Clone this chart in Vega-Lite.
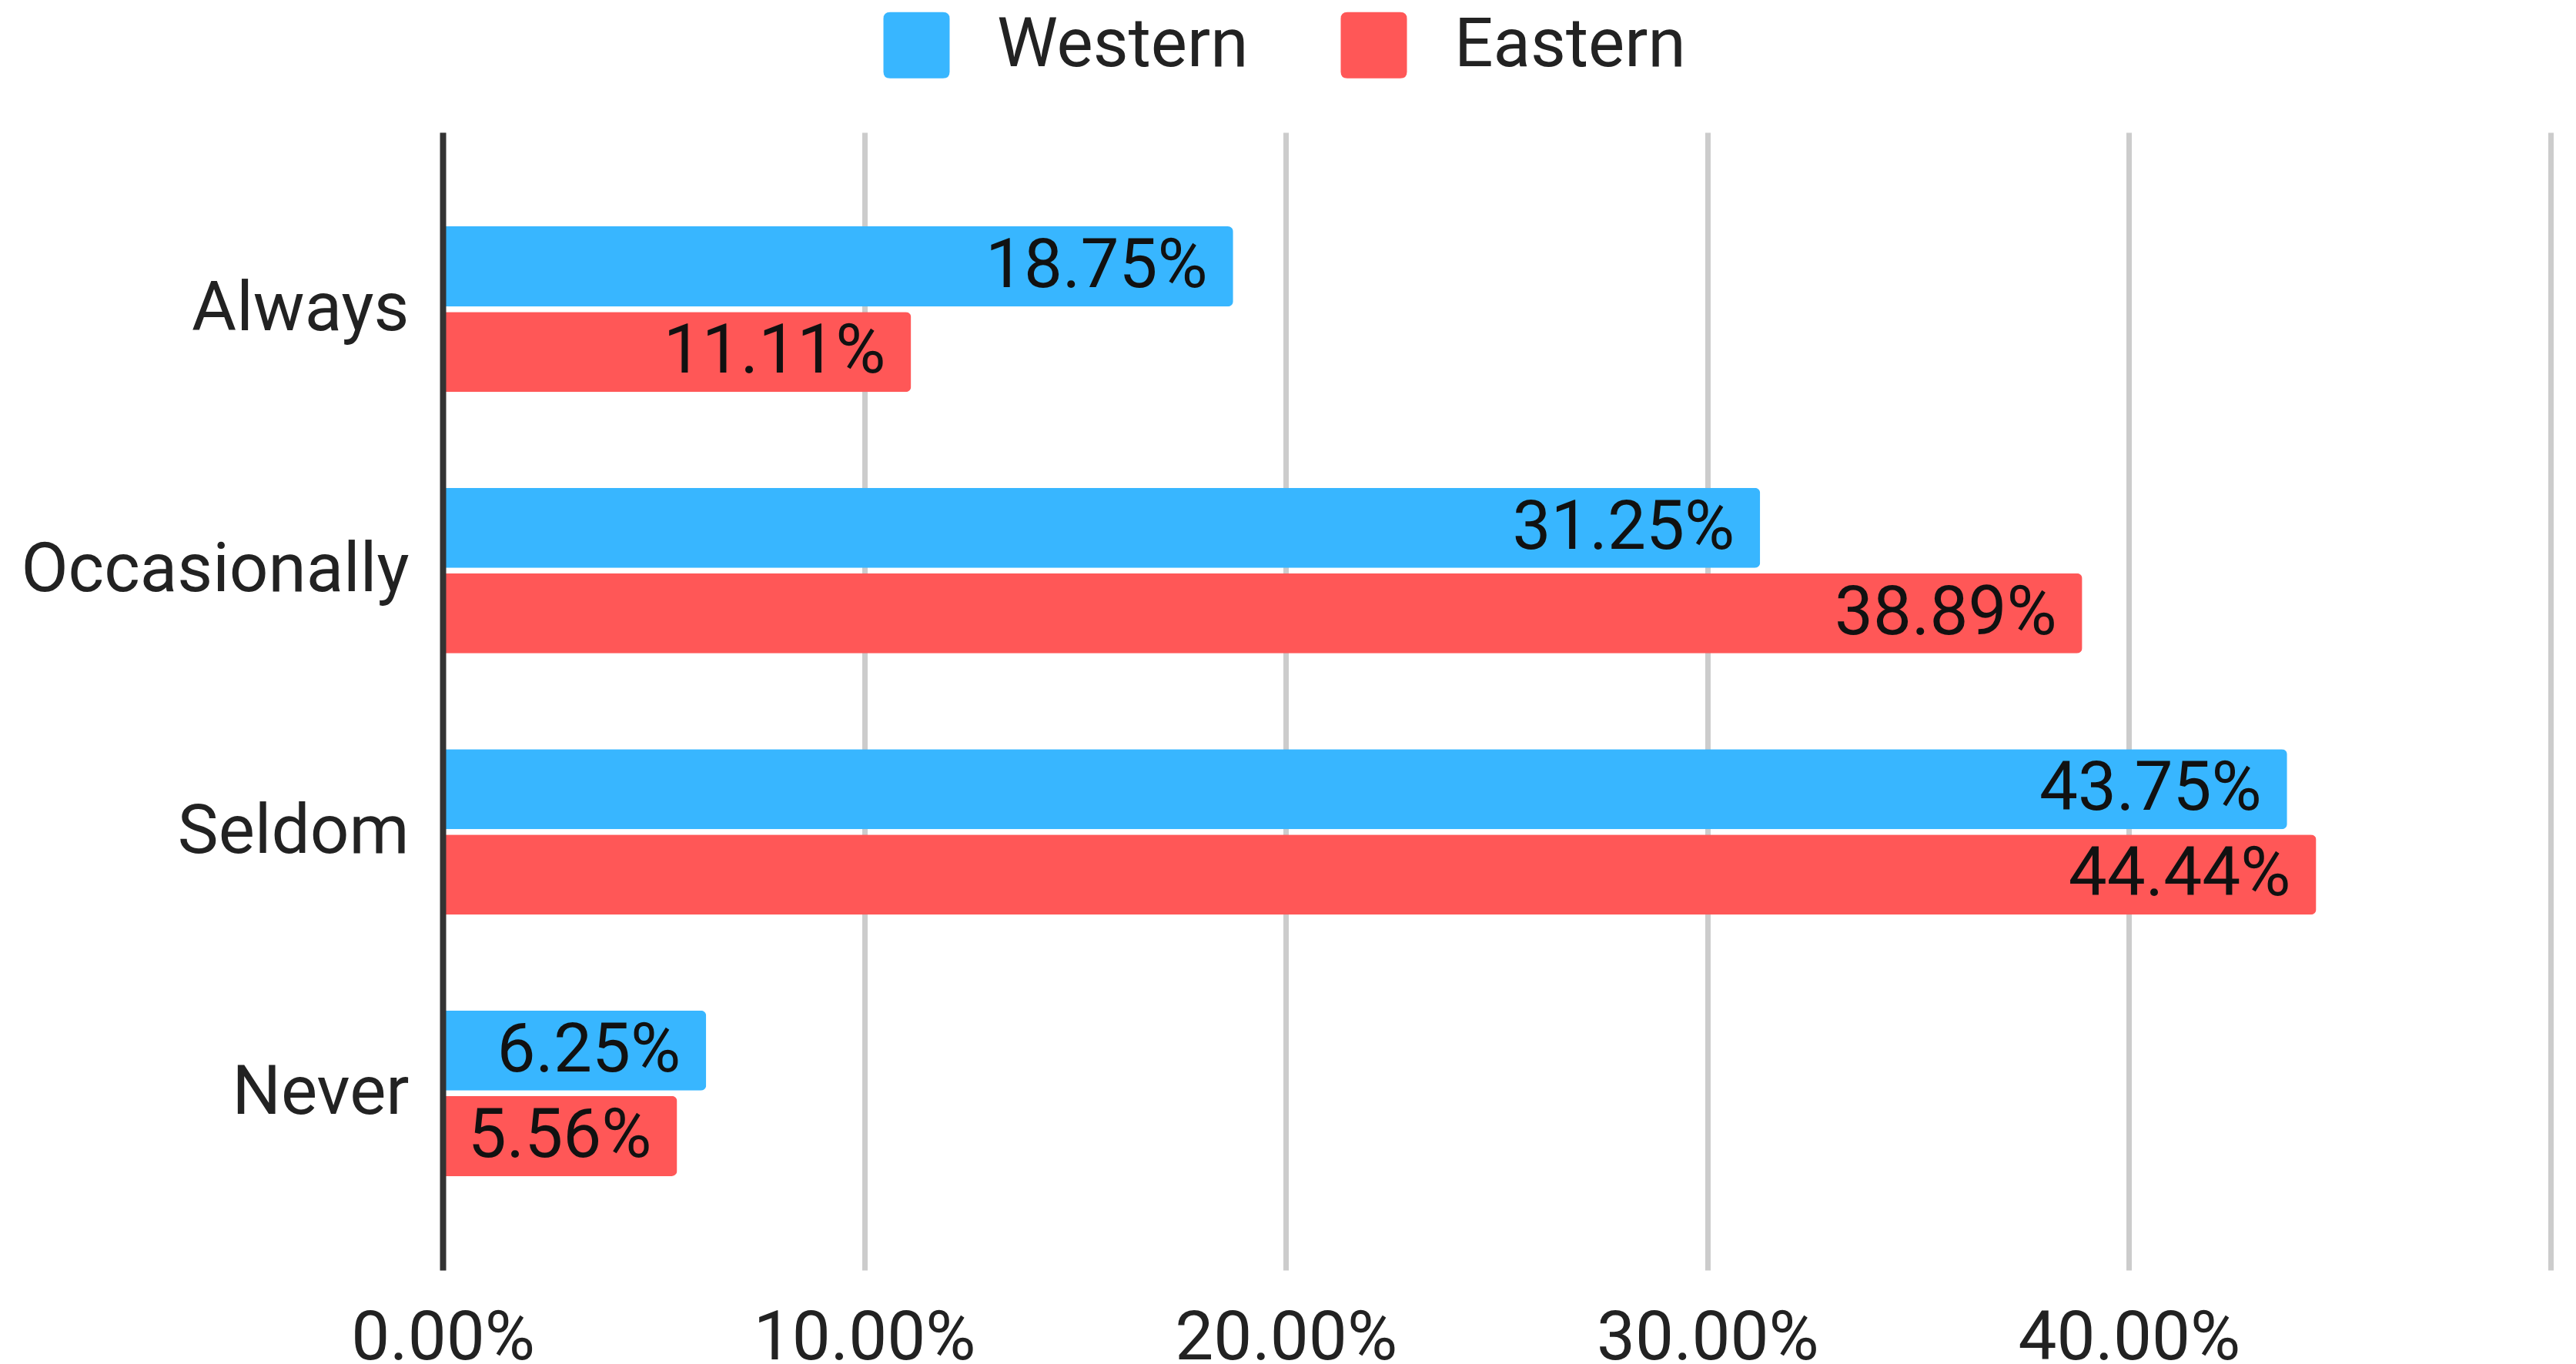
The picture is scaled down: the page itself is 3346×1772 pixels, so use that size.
{
  "$schema": "https://vega.github.io/schema/vega-lite/v6.json",
  "width": 2738,
  "height": 1478,
  "autosize": {"type": "none"},
  "padding": {"left": 575, "top": 172, "right": 33, "bottom": 122},
  "background": "white",
  "config": {"view": {"stroke": null}, "font": "Roboto"},
  "data": {
    "values": [
      {"category": "Always", "series": "Western", "value": 0.1875},
      {"category": "Always", "series": "Eastern", "value": 0.1111},
      {"category": "Occasionally", "series": "Western", "value": 0.3125},
      {"category": "Occasionally", "series": "Eastern", "value": 0.3889},
      {"category": "Seldom", "series": "Western", "value": 0.4375},
      {"category": "Seldom", "series": "Eastern", "value": 0.4444},
      {"category": "Never", "series": "Western", "value": 0.0625},
      {"category": "Never", "series": "Eastern", "value": 0.0556}
    ]
  },
  "encoding": {
    "y": {
      "field": "category",
      "type": "nominal",
      "sort": ["Always", "Occasionally", "Seldom", "Never"],
      "scale": {"paddingInner": 0.3664, "paddingOuter": 0.3596},
      "axis": {
        "title": null,
        "ticks": false,
        "tickSize": 0,
        "labelPadding": 44,
        "labelFontSize": 89,
        "labelFont": "Roboto",
        "labelColor": "#222222",
        "labelLimit": 1000,
        "domainColor": "#333333",
        "domainWidth": 8,
        "grid": false,
        "zindex": 1
      }
    },
    "yOffset": {
      "field": "series",
      "type": "nominal",
      "sort": ["Western", "Eastern"],
      "scale": {"paddingInner": 0.063, "paddingOuter": 0}
    },
    "x": {
      "field": "value",
      "type": "quantitative",
      "scale": {"domain": [0, 0.5], "nice": false},
      "axis": {
        "title": null,
        "values": [0, 0.1, 0.2, 0.3, 0.4, 0.5],
        "format": ".2%",
        "labelExpr": "datum.value >= 0.45 ? '' : datum.label",
        "grid": true,
        "gridColor": "#cccccc",
        "gridWidth": 7,
        "domain": false,
        "ticks": false,
        "tickSize": 0,
        "labelPadding": 45,
        "labelFontSize": 89,
        "labelFont": "Roboto",
        "labelColor": "#222222",
        "labelFlush": false,
        "labelOverlap": false,
        "labelLimit": 1000
      }
    }
  },
  "layer": [
    {
      "mark": {"type": "bar", "cornerRadiusEnd": 7},
      "encoding": {
        "color": {
          "field": "series",
          "type": "nominal",
          "scale": {"domain": ["Western", "Eastern"], "range": ["#38B6FF", "#FF5757"]},
          "legend": {
            "orient": "none",
            "legendX": 571,
            "legendY": -158,
            "direction": "horizontal",
            "title": null,
            "symbolType": "M -0.8,-1 L 0.8,-1 Q 1,-1 1,-0.8 L 1,0.8 Q 1,1 0.8,1 L -0.8,1 Q -1,1 -1,0.8 L -1,-0.8 Q -1,-1 -0.8,-1 Z",
            "symbolSize": 7396,
            "symbolStrokeWidth": 0,
            "symbolOpacity": 1,
            "labelFontSize": 89,
            "labelFont": "Roboto",
            "labelColor": "#222222",
            "labelOffset": 60,
            "labelLimit": 1000,
            "columnPadding": 118
          }
        }
      }
    },
    {
      "mark": {"type": "text", "align": "right", "baseline": "middle", "dx": -33, "fontSize": 89, "font": "Roboto", "color": "#111111"},
      "encoding": {
        "text": {"field": "value", "type": "quantitative", "format": ".2%"}
      }
    }
  ]
}
